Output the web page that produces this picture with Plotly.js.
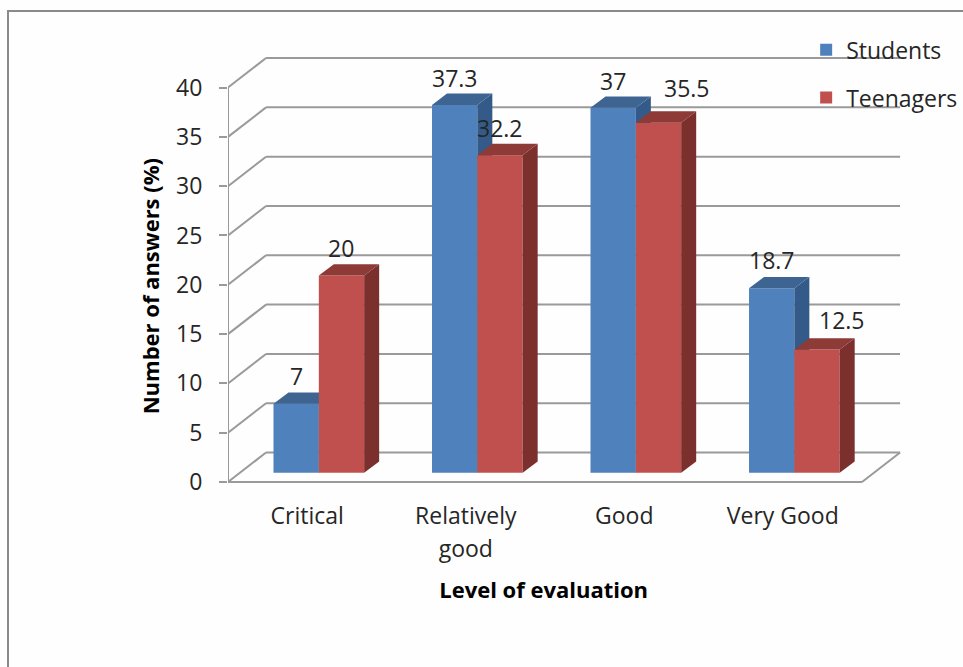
<!DOCTYPE html>
<html>
<head>
<meta charset="utf-8">
<script src="https://cdn.plot.ly/plotly-3.0.1.min.js"></script>
<style>
  html, body { margin: 0; padding: 0; background: #fefefe; }
  #frame { position: absolute; left: 7px; top: 10px; right: 0; bottom: 0; border-left: 2px solid #8a8a8a; border-top: 2px solid #8a8a8a; }
  #chart { position: absolute; left: 0; top: 0; width: 963px; height: 667px; }
</style>
</head>
<body>
<div id="frame"></div>
<div id="chart"></div>
<script>
// Survey results: share of answers per evaluation level
const categories = ['Critical', 'Relatively<br>good', 'Good', 'Very Good'];
const students = [7, 37.3, 37, 18.7];
const teenagers = [20, 32.2, 35.5, 12.5];
const yTicks = [0, 5, 10, 15, 20, 25, 30, 35, 40];

// Pseudo-3D projection, in axis units
const wallDx = 0.24, wallDy = 2.99;       // depth of the chart box
const barDepthDx = 0.0946, barDepthDy = 1.15; // depth of one column
const floorLift = 0.94;                    // columns stand inside the box
const barWidth = 0.286;
const studentOffset = -0.213, teenagerOffset = 0.073;
const xStart = -0.5, xEnd = 3.5;

// Manually moved data labels (px)
const teenagerLabelShift = [0, 0, 28, 25];
const teenagerLabelLift = [28, 27, 35, 29];
const studentLabelLift = [28, 27, 27, 28];

const grey = '#9a9a9a', ink = '#262626';
const xIdx = categories.map((_, i) => i);

function frontBars(name, values, offset, color, xa, ya) {
  return { type: 'bar', name, legendgroup: name, x: xIdx, y: values, base: values.map(() => floorLift),
    width: barWidth, offset, marker: { color }, xaxis: xa, yaxis: ya, hoverinfo: 'skip' };
}
// Top and side faces of each column, derived from its value
function faces(values, offset, topColor, sideColor, xa, ya) {
  const tx = [], ty = [], sx = [], sy = [];
  values.forEach((v, i) => {
    const l = i + offset, r = l + barWidth, t = floorLift + v, b = floorLift;
    tx.push(l, r, r + barDepthDx, l + barDepthDx, l, null);
    ty.push(t, t, t + barDepthDy, t + barDepthDy, t, null);
    sx.push(r, r + barDepthDx, r + barDepthDx, r, r, null);
    sy.push(t, t + barDepthDy, b + barDepthDy, b, t, null);
  });
  const poly = (x, y, c) => ({ type: 'scatter', mode: 'lines', x, y, fill: 'toself', fillcolor: c,
    line: { width: 0, color: c }, showlegend: false, hoverinfo: 'skip', xaxis: xa, yaxis: ya });
  return [poly(sx, sy, sideColor), poly(tx, ty, topColor)];
}

const traces = [
  frontBars('Students', students, studentOffset, '#4f81bd', 'x', 'y'),
  ...faces(students, studentOffset, '#3e6591', '#335a88', 'x', 'y'),
  frontBars('Teenagers', teenagers, teenagerOffset, '#c0504d', 'x2', 'y2'),
  ...faces(teenagers, teenagerOffset, '#8e3a37', '#7b302e', 'x2', 'y2')
];

// Box wall: grid lines run along the back, with a diagonal on the left side
const line = { color: grey, width: 2 };
const shapes = [];
yTicks.forEach(v => {
  shapes.push({ type: 'line', layer: 'below', xref: 'x', yref: 'y', x0: xStart, y0: v, x1: xStart + wallDx, y1: v + wallDy, line });
  shapes.push({ type: 'line', layer: 'below', xref: 'x', yref: 'y', x0: xStart + wallDx, y0: v + wallDy, x1: xEnd + wallDx, y1: v + wallDy, line });
});
shapes.push({ type: 'line', layer: 'below', xref: 'x', yref: 'y', x0: xStart, y0: 0, x1: xEnd, y1: 0, line });
shapes.push({ type: 'line', layer: 'below', xref: 'x', yref: 'y', x0: xEnd, y0: 0, x1: xEnd + wallDx, y1: wallDy, line });
shapes.push({ type: 'line', layer: 'below', xref: 'x', yref: 'y', x0: xStart, y0: 0, x1: xStart, y1: 40, line });

const labelFont = { family: 'Open Sans', size: 23, color: ink };
const annotations = [];
students.forEach((v, i) => annotations.push({ x: i + studentOffset + barWidth / 2, y: floorLift + v, xref: 'x', yref: 'y',
  text: String(v), showarrow: false, yanchor: 'middle', yshift: studentLabelLift[i], font: labelFont }));
teenagers.forEach((v, i) => annotations.push({ x: i + teenagerOffset + barWidth / 2, y: floorLift + v, xref: 'x', yref: 'y',
  text: String(v), showarrow: false, yanchor: 'middle', xshift: teenagerLabelShift[i], yshift: teenagerLabelLift[i], font: labelFont }));

// Axis titles sit off the plot centre; trailing no-break spaces pull them back along the axis
const pad = n => '\u00a0'.repeat(n);
const xRange = [xStart, 3.771], yRange = [-0.2, 43.4];
const layout = {
  width: 963, height: 667,
  margin: { l: 228, r: 58, t: 54, b: 183, autoexpand: false },
  paper_bgcolor: 'rgba(0,0,0,0)', plot_bgcolor: 'rgba(0,0,0,0)',
  barmode: 'overlay', hovermode: false,
  font: { family: 'Open Sans', color: ink },
  xaxis: { range: xRange, tickmode: 'array', tickvals: xIdx,
    ticktext: categories.map(c => '<span style="font-size:23px">' + c + '</span>'),
    tickfont: { family: 'Open Sans', size: 25, color: ink }, ticks: '', showgrid: false, zeroline: false, showline: false,
    ticklabelstandoff: 14,
    title: { text: '<b>Level of evaluation' + pad(8) + '</b>', font: { family: 'Open Sans', size: 22, color: '#000' }, standoff: 20 } },
  yaxis: { range: yRange, tickmode: 'array', tickvals: yTicks, ticks: 'outside', ticklen: 8, tickwidth: 2, tickcolor: grey,
    tickfont: { family: 'Open Sans', size: 23, color: ink }, showgrid: false, zeroline: false, showline: false,
    ticklabelstandoff: 12,
    title: { text: '<b>Number of answers (%)' + pad(6) + '</b>', font: { family: 'Open Sans', size: 22, color: '#000' }, standoff: 10 } },
  xaxis2: { range: xRange, overlaying: 'x', visible: false, fixedrange: true },
  yaxis2: { range: yRange, overlaying: 'y', visible: false, fixedrange: true },
  legend: { x: 0.854, xanchor: 'left', y: 1.06, yanchor: 'top', bgcolor: 'rgba(0,0,0,0)', tracegroupgap: 15,
    font: { family: 'Open Sans', size: 23, color: ink } },
  shapes, annotations, showlegend: true
};
Plotly.newPlot('chart', traces, layout, { displayModeBar: false, staticPlot: true });
</script>
</body>
</html>
